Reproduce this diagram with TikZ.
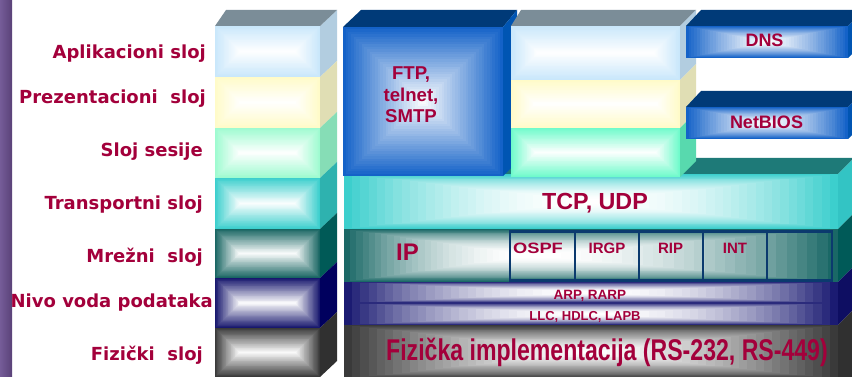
\documentclass[tikz,border=0pt]{standalone}
\usepackage{fontspec}
\setmainfont{Liberation Sans}
\newfontfamily\lblfont{DejaVu Sans}
\newfontfamily\narrowfont[FakeStretch=0.77]{Liberation Sans}

\definecolor{stripL}{HTML}{755C98}
\definecolor{stripR}{HTML}{5A4278}
\definecolor{txt}{HTML}{A3003B}
\definecolor{topgray}{HTML}{7B8D98}
\definecolor{appF}{HTML}{C9E7FB}
\definecolor{appS}{HTML}{B2CDE0}
\definecolor{preF}{HTML}{FFFBC8}
\definecolor{preS}{HTML}{E0DEB4}
\definecolor{sesF}{HTML}{9EFBD0}
\definecolor{sesS}{HTML}{86DDB6}
\definecolor{msesF}{HTML}{6FFBCB}
\definecolor{msesS}{HTML}{58D9AE}
\definecolor{traF}{HTML}{3CCFCD}
\definecolor{traS}{HTML}{2EB2AF}
\definecolor{mreF}{HTML}{196663}
\definecolor{mreS}{HTML}{005A57}
\definecolor{nivF}{HTML}{18186E}
\definecolor{nivS}{HTML}{00005E}
\definecolor{fizF}{HTML}{3A3A3A}
\definecolor{fizS}{HTML}{303030}
\definecolor{ftpF}{HTML}{1462C8}
\definecolor{ftpS}{HTML}{0055B3}
\definecolor{ftpT}{HTML}{003A78}
\definecolor{tcpT}{HTML}{1E7A78}
\definecolor{tcpS}{HTML}{33C4C4}
\definecolor{ipF}{HTML}{1A6866}
\definecolor{ipS}{HTML}{005A58}
\definecolor{arpF}{HTML}{1B1B72}
\definecolor{arpS}{HTML}{0E0E62}
\definecolor{tbl}{HTML}{0B3A6E}

% box gradient: nested rectangles from the edge colour to white
% #1..#4 corners, #5..#8 total insets (left,right,top,bottom), #9 colour
\def\gexp{1}
\newcommand\gbox[9]{%
  \foreach \gi in {0,...,29}{%
    \pgfmathsetmacro\gt{\gi/30}%
    \pgfmathtruncatemacro\gp{100*(1-\gt)^\gexp}%
    \fill[#9!\gp!white] ({#1+#5*\gt},{#2+#7*\gt}) rectangle ({#3-#6*\gt},{#4-#8*\gt});
  }}

\tikzset{
  lbl/.style={text=txt, inner sep=0pt, anchor=base east,
    font=\lblfont\bfseries\fontsize{18}{20}\selectfont},
  rtxt/.style={text=txt, inner sep=0pt, font=\bfseries},
  cellbox/.style={draw=tbl, line width=1.2pt, minimum width=64pt, minimum height=48pt, inner sep=0pt},
}

\begin{document}
\begin{tikzpicture}[x=1pt,y=-1pt]
\useasboundingbox (0,0) rectangle (852,377);
\clip (0,0) rectangle (852,377);
\fill[white] (0,0) rectangle (852,377);

% purple strip on the left edge
\shade[left color=stripL, right color=stripR] (0,0) rectangle (12,377);

% ---------- reference stack of the seven layers ----------
\gbox{215}{26}{320}{77}{25.5}{25.5}{25.5}{25.5}{appF}
\gbox{215}{77}{320}{128}{25.5}{25.5}{25.5}{25.5}{preF}
\gbox{215}{128}{320}{178}{25}{25}{25}{25}{sesF}
\gbox{215}{178}{320}{229}{25.5}{25.5}{25.5}{25.5}{traF}
\gbox{215}{229}{320}{278}{24.5}{24.5}{24.5}{24.5}{mreF}
\gbox{215}{278}{320}{328}{25}{25}{25}{25}{nivF}
\gbox{215}{328}{320}{377}{24.5}{24.5}{24.5}{24.5}{fizF}
\fill[appS] (320,26) -- (337,10) -- (337,61) -- (320,77) -- cycle;
\fill[preS] (320,77) -- (337,61) -- (337,112) -- (320,128) -- cycle;
\fill[sesS] (320,128) -- (337,112) -- (337,162) -- (320,178) -- cycle;
\fill[traS] (320,178) -- (337,162) -- (337,213) -- (320,229) -- cycle;
\fill[mreS] (320,229) -- (337,213) -- (337,262) -- (320,278) -- cycle;
\fill[nivS] (320,278) -- (337,262) -- (337,312) -- (320,328) -- cycle;
\fill[fizS] (320,328) -- (337,312) -- (337,361) -- (320,377) -- cycle;
\fill[topgray] (215,26) -- (226,10) -- (337,10) -- (320,26) -- cycle;

% ---------- TCP/IP protocol rows ----------
% TCP, UDP
\fill[tcpT] (344,174) -- (360,158) -- (854,158) -- (838,174) -- cycle;
\def\gexp{2}
\gbox{344}{174}{838}{229}{247}{247}{27.5}{27.5}{traF}
\fill[tcpS] (838,174) -- (854,158) -- (854,213) -- (838,229) -- cycle;
% IP
\def\gexp{2}
\gbox{344}{229}{838}{282}{186}{308}{26.5}{26.5}{ipF}
\fill[ipS] (838,229) -- (854,213) -- (854,266) -- (838,282) -- cycle;
% ARP / LLC
\def\gexp{2}
\gbox{344}{282}{838}{303}{247}{247}{10.5}{10.5}{arpF}
\gbox{344}{303}{838}{325}{247}{247}{11}{11}{arpF}
\fill[arpS] (838,282) -- (854,266) -- (854,309) -- (838,325) -- cycle;
% physical layer
\def\gexp{1.5}
\gbox{344}{325}{838}{379}{247}{247}{27}{27}{fizF}
\fill[fizS] (838,325) -- (854,309) -- (854,377) -- (838,377) -- cycle;

% ---------- FTP / telnet / SMTP block ----------
\fill[ftpT] (343,27) -- (361,10) -- (517,10) -- (503,27) -- cycle;
\fill[ftpS] (503,27) -- (517,10) -- (517,162) -- (503,176) -- cycle;
\def\gexp{1}
\gbox{343}{27}{503}{176}{80}{80}{74.5}{74.5}{ftpF}

% ---------- upper stack next to it ----------
\fill[topgray] (511,26) -- (521,10) -- (696,10) -- (680,26) -- cycle;
\gbox{511}{26}{680}{80}{27}{27}{27}{27}{appF}
\gbox{511}{80}{680}{128}{24}{24}{24}{24}{preF}
\gbox{511}{128}{680}{177}{24.5}{24.5}{24.5}{24.5}{msesF}
\fill[appS] (680,26) -- (696,10) -- (696,64) -- (680,80) -- cycle;
\fill[preS] (680,80) -- (696,64) -- (696,112) -- (680,128) -- cycle;
\fill[msesS] (680,128) -- (696,112) -- (696,161) -- (680,177) -- cycle;

% ---------- DNS and NetBIOS bars ----------
\fill[ftpT] (686,26) -- (701,10) -- (864,10) -- (848,26) -- cycle;
\fill[ftpS] (848,26) -- (864,10) -- (864,42) -- (848,58) -- cycle;
\def\gexp{1.3}
\gbox{686}{26}{848}{58}{81}{81}{16}{16}{ftpF}
\fill[ftpT] (686,107) -- (701,91) -- (864,91) -- (848,107) -- cycle;
\fill[ftpS] (848,107) -- (864,91) -- (864,123) -- (848,139) -- cycle;
\gbox{686}{107}{848}{139}{81}{81}{16}{16}{ftpF}

% ---------- routing protocol table ----------
\node[cellbox] (c1) at (542.5,256) {};
\node[cellbox] (c2) at (607,256) {};
\node[cellbox] (c3) at (671,256) {};
\node[cellbox] (c4) at (735,256) {};
\node[cellbox] (c5) at (799.5,256) {};
\draw[tbl, line width=2pt] (c1.north west) rectangle (c5.south east);

% ---------- texts ----------
\node[rtxt, align=center, font=\bfseries\fontsize{18.6}{21.5}\selectfont] (ftp) at (411,95) {FTP,\\telnet,\\SMTP};
\node[rtxt, anchor=base, font=\bfseries\fontsize{18}{20}\selectfont] (dns) at (764.5,47) {DNS};
\node[rtxt, anchor=base, font=\bfseries\fontsize{18}{20}\selectfont] (netbios) at (766.5,128.3) {NetBIOS};
\node[rtxt, anchor=base, font=\bfseries\fontsize{23.3}{26}\selectfont] (tcp) at (595,210) {TCP, UDP};
\node[rtxt, anchor=base, font=\bfseries\fontsize{24}{26}\selectfont] (ip) at (407.5,260) {IP};
\node[rtxt, anchor=base, font=\bfseries\fontsize{15}{17}\selectfont] (ospf) at (538,253) {\scalebox{1.22}[1]{OSPF}};
\node[rtxt, anchor=base, font=\bfseries\fontsize{15}{17}\selectfont] (irgp) at (607,253) {IRGP};
\node[rtxt, anchor=base, font=\bfseries\fontsize{15}{17}\selectfont] (rip) at (670.5,253) {RIP};
\node[rtxt, anchor=base, font=\bfseries\fontsize{15}{17}\selectfont] (int) at (735,253) {INT};
\node[rtxt, anchor=base, font=\bfseries\fontsize{13.5}{15}\selectfont] (arp) at (590,299) {ARP, RARP};
\node[rtxt, anchor=base, font=\bfseries\fontsize{13}{15}\selectfont] (llc) at (585,320) {LLC, HDLC, LAPB};
\node[rtxt, anchor=base, font=\narrowfont\bfseries\fontsize{30}{32}\selectfont] (fiz) at (607,360) {Fizička implementacija (RS-232, RS-449)};

% layer names
\node[lbl] (lapp) at (206,59) {Aplikacioni sloj};
\node[lbl] (lpre) at (206,104) {Prezentacioni\ \ sloj};
\node[lbl] (lses) at (203,157) {Sloj sesije};
\node[lbl] (ltra) at (203,209) {Transportni sloj};
\node[lbl] (lmre) at (203,262) {Mrežni\ \ sloj};
\node[lbl] (lniv) at (213,307) {Nivo voda podataka};
\node[lbl] (lfiz) at (203,360) {Fizički\ \ sloj};
\end{tikzpicture}
\end{document}
